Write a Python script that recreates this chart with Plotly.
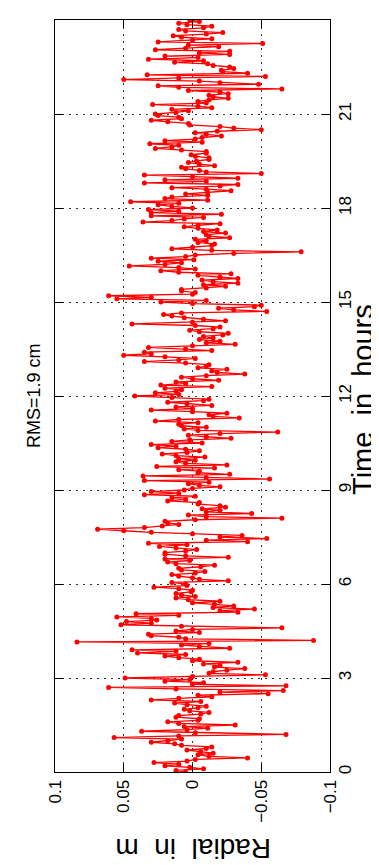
import plotly.graph_objects as go

# radial error (m), one value every 0.05 h (3 min)
radial = (
    [0.005, 0.012, -0.008, 0.002, 0.020, 0.010, 0.028, 0.004, -0.002, -0.040,
     -0.012, -0.004, -0.015, -0.006, 0.004, -0.010, -0.014, 0.008, 0.013, 0.030]
    + [0.018, 0.008, 0.057, 0.010, -0.068, -0.002, 0.037, 0.004, -0.011, 0.006,
       -0.031, 0.010, 0.018, -0.004, -0.005, 0.012, 0.010, -0.006, -0.012, 0.002]
    + [0.006, -0.004, -0.010, 0.004, 0.013, -0.006, 0.030, 0.010, -0.014, -0.004,
       -0.055, -0.020, -0.066, 0.012, 0.061, -0.068, 0.000, -0.008, 0.020, 0.002]
    + [0.049, 0.000, -0.053, -0.012, -0.015, -0.025, -0.038, -0.016, -0.020, -0.008,
       -0.033, 0.000, -0.005, 0.010, 0.020, 0.005, 0.040, 0.012, 0.044, -0.027]
    + [-0.005, 0.008, -0.012, 0.084, -0.088, 0.005, 0.010, 0.030, 0.032, -0.005,
       0.012, 0.000, -0.065, 0.008, 0.052, 0.030, 0.048, 0.026, 0.030, 0.055]
    + [0.010, 0.041, -0.033, -0.020, -0.045, -0.015, -0.030, -0.016, 0.000, -0.020,
       0.003, 0.012, -0.002, 0.008, 0.012, 0.001, 0.000, 0.010, 0.028, 0.004]
    + [0.005, 0.015, -0.026, -0.005, 0.000, 0.010, 0.015, -0.002, -0.009, 0.008,
       0.010, -0.006, -0.016, 0.012, 0.018, 0.002, 0.020, -0.026, 0.005, 0.020]
    + [0.020, 0.005, -0.003, 0.012, 0.024, 0.004, 0.032, -0.040, -0.010, -0.054,
       -0.020, -0.036, 0.000, 0.030, 0.050, 0.069, 0.035, 0.022, 0.010, 0.018]
    + [0.020, -0.002, -0.065, -0.010, 0.003, -0.043, -0.010, -0.020, -0.007, -0.024,
       -0.020, -0.004, -0.005, 0.018, 0.005, 0.015, -0.002, 0.035, 0.010, 0.030]
    + [0.006, 0.000, -0.020, -0.005, 0.003, -0.012, 0.035, -0.056, -0.010, 0.036,
       -0.027, -0.004, -0.005, 0.010, -0.016, 0.026, -0.025, 0.005, 0.012, -0.002]
    + [0.010, -0.009, 0.012, 0.022, 0.004, -0.005, 0.005, 0.025, 0.012, 0.030,
       -0.007, 0.015, 0.002, -0.028, -0.010, 0.003, -0.020, -0.062, -0.004, 0.006]
    + [-0.010, 0.008, 0.010, -0.004, 0.027, 0.010, -0.034, -0.015, -0.012, -0.025,
       0.000, 0.030, 0.000, 0.012, -0.014, 0.004, 0.018, -0.008, -0.012, 0.015]
    + [0.042, 0.010, 0.027, 0.012, 0.008, 0.020, -0.014, 0.023, 0.005, 0.012,
       -0.019, 0.000, 0.008, -0.010, -0.038, -0.018, -0.014, -0.025, -0.004, -0.010]
    + [-0.012, 0.005, 0.035, 0.010, -0.002, 0.020, 0.050, 0.030, 0.035, -0.014,
       0.005, 0.032, 0.000, -0.031, -0.010, -0.020, -0.005, -0.015, -0.008, -0.022]
    + [-0.026, -0.005, 0.002, -0.015, -0.020, -0.002, 0.044, 0.000, -0.024, -0.008,
       0.006, 0.015, 0.021, 0.008, -0.054, -0.030, -0.019, -0.045, -0.050, 0.000]
    + [0.023, -0.010, 0.055, 0.030, 0.061, 0.000, -0.002, 0.008, 0.008, -0.010,
       -0.024, -0.008, -0.033, -0.015, -0.007, -0.033, -0.020, -0.004, -0.028, 0.010]
    + [0.023, -0.002, 0.010, 0.046, 0.020, 0.008, 0.025, -0.001, 0.030, 0.005,
       -0.002, -0.030, -0.079, -0.014, 0.015, 0.000, -0.014, -0.016, -0.004, -0.010]
    + [-0.002, -0.027, -0.012, -0.010, -0.024, -0.008, -0.018, -0.004, 0.006, -0.004,
       -0.020, 0.036, 0.015, 0.006, -0.008, 0.030, -0.021, 0.030, 0.010, 0.032]
    + [0.000, 0.015, 0.025, 0.010, 0.045, -0.011, 0.020, 0.015, -0.011, 0.005,
       -0.011, -0.028, -0.010, 0.015, -0.020, -0.033, 0.035, -0.010, 0.020, -0.033]
    + [0.000, 0.035, -0.050, -0.010, -0.005, 0.005, 0.008, -0.016, -0.005, 0.003,
       -0.003, -0.012, -0.012, -0.002, 0.001, -0.010, -0.010, 0.008, 0.027, 0.015]
    + [0.010, 0.031, -0.007, 0.020, -0.002, -0.007, -0.021, -0.010, -0.002, -0.018,
       -0.050, -0.030, -0.020, 0.002, 0.003, 0.018, 0.030, 0.008, 0.010, 0.025]
    + [0.027, 0.012, 0.003, 0.015, -0.014, -0.004, 0.029, -0.010, -0.004, -0.012,
       -0.026, -0.015, -0.012, -0.026, -0.020, 0.003, -0.065, 0.010, 0.025, -0.048]
    + [-0.020, -0.005, 0.050, 0.010, -0.053, 0.033, -0.040, -0.022, -0.021, -0.030,
       -0.027, -0.015, -0.011, 0.013, -0.008, 0.032, -0.004, 0.020, -0.027, -0.005]
    + [-0.027, 0.027, 0.005, -0.019, 0.003, -0.051, 0.025, 0.000, -0.014, 0.008,
       0.014, -0.010, -0.022, 0.005, 0.010, -0.008, -0.014, 0.004, 0.010, -0.005]
    + [0.002]
)
# sample times in hours (3-minute steps from 0 to 24 h)
hours = [i / 20 for i in range(len(radial))]

time_ticks = [0, 3, 6, 9, 12, 15, 18, 21, 24]
time_ticktext = ["0", "3", "6", "9", "12", "15", "18", "21", "24"]
radial_ticks = [0.1, 0.05, 0, -0.05, -0.1]
radial_ticktext = ["0.1", "0.05", "0", "\u22120.05", "\u22120.1"]

title_text = "RMS=1.9 cm"
time_label = "Time\u00a0 in\u00a0 hours"
radial_label = "Radial\u00a0 in\u00a0 m"

FONT = "Liberation Sans, Arial, Helvetica, sans-serif"

fig = go.Figure(
    go.Scatter(
        x=radial,
        y=hours,
        mode="lines+markers",
        line=dict(color="#ff0000", width=1.3),
        marker=dict(color="#ff0000", size=5),
        hoverinfo="skip",
    )
)

fig.update_layout(
    width=379,
    height=865,
    margin=dict(l=47, r=57, t=12, b=101),
    paper_bgcolor="white",
    plot_bgcolor="white",
    showlegend=False,
    font=dict(family=FONT, color="black"),
)

common = dict(
    ticks="inside",
    ticklen=8,
    tickwidth=1,
    tickcolor="black",
    showline=True,
    linecolor="black",
    linewidth=1,
    mirror="ticks",
    showgrid=True,
    gridcolor="#333333",
    gridwidth=1,
    griddash="2px,5px",
    zeroline=False,
    tickfont=dict(size=17, family=FONT, color="black"),
)

fig.update_xaxes(
    range=[0.1, -0.1],
    tickvals=radial_ticks,
    ticktext=radial_ticktext,
    tickangle=-90,
    **common,
)
fig.update_yaxes(
    range=[0, 24],
    side="right",
    tickvals=time_ticks,
    ticktext=time_ticktext,
    tickangle=-90,
    **common,
)

fig.add_annotation(
    text=time_label, xref="paper", yref="paper",
    x=(355 - 47) / 275, y=(764 - 392) / 752,
    xanchor="center", yanchor="middle",
    textangle=-90, showarrow=False, font=dict(size=29, family=FONT, color="black"),
)
fig.add_annotation(
    text=radial_label, xref="paper", yref="paper",
    x=(185 - 47) / 275, y=(764 - 841) / 752,
    xanchor="center", yanchor="middle",
    textangle=180, showarrow=False, font=dict(size=28, family=FONT, color="black"),
)
fig.add_annotation(
    text=title_text, xref="paper", yref="paper",
    x=(26 - 47) / 275, y=(764 - 388) / 752,
    xanchor="center", yanchor="middle",
    textangle=-90, showarrow=False, font=dict(size=18, family=FONT, color="black"),
)

fig.write_html("out.html")
